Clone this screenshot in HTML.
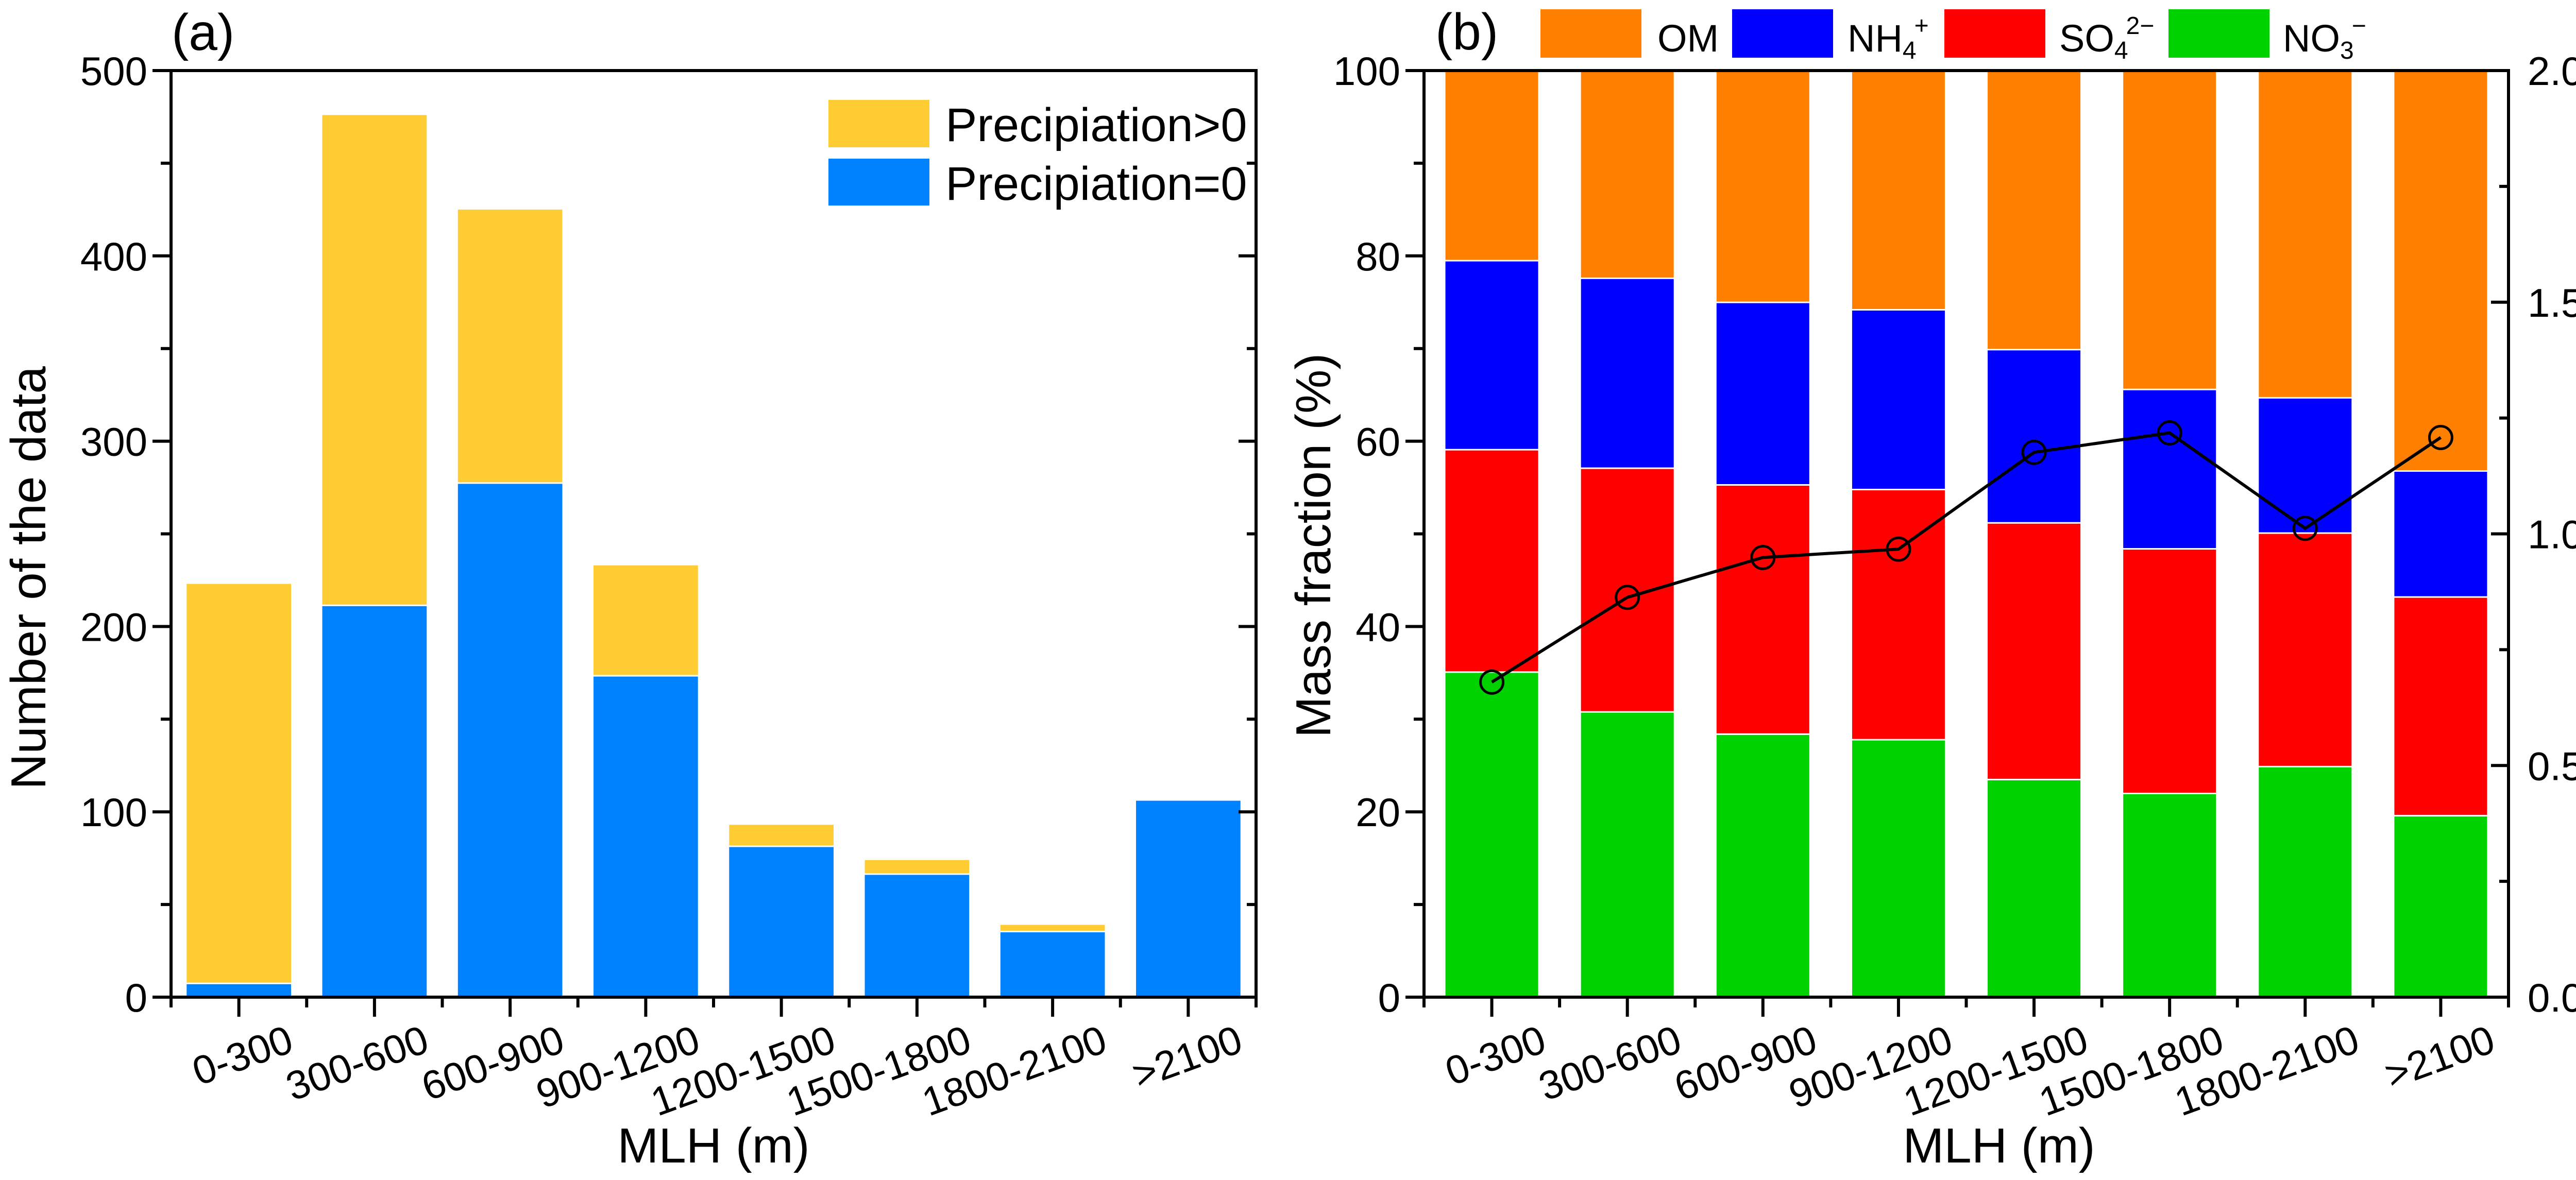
<!DOCTYPE html>
<html><head><meta charset="utf-8"><style>
html,body{margin:0;padding:0;background:#fff;overflow:hidden;width:5204px;height:2291px;}
svg{display:block;font-family:"Liberation Sans",Arial,sans-serif;}
</style></head><body>
<svg id="chart" xmlns="http://www.w3.org/2000/svg" width="5204" height="2291" viewBox="0 0 5204 2291">
<rect x="0" y="0" width="5204" height="2291" fill="#fff"/>
<g id="pa"></g>
<g id="pb"></g>
</svg>
<script>
const categories = ["0-300","300-600","600-900","900-1200","1200-1500","1500-1800","1800-2100",">2100"];
const precipZero = [7,211,277,173,81,66,35,106];
const precipTotal = [223,476,425,233,93,74,39,106];
const aTicks = [0,100,200,300,400,500];
const no3 = [35.0,30.7,28.3,27.7,23.4,21.9,24.8,19.5];
const so4 = [24.0,26.3,26.9,27.0,27.7,26.4,25.2,23.6];
const nh4 = [20.4,20.5,19.7,19.4,18.7,17.2,14.6,13.6];
const om = [20.6,22.5,25.1,25.9,30.2,34.5,35.4,43.3];
const ratio = [0.68,0.863,0.949,0.967,1.176,1.218,1.012,1.208];
const bTicks = [0,20,40,60,80,100];
const rTicks = ["0.0","0.5","1.0","1.5","2.0"];

const NS="http://www.w3.org/2000/svg";
function mk(parent,tag,attrs,text){const e=document.createElementNS(NS,tag);for(const k in attrs)e.setAttribute(k,attrs[k]);if(text!==undefined)e.textContent=text;parent.appendChild(e);return e;}

// ---------- Panel A ----------
const pa=document.getElementById('pa');
const A={l:332,r:2438,t:137,b:1936,max:500};
const axW=(A.r-A.l)/categories.length;
const ay=v=>A.b-(v/A.max)*(A.b-A.t);
const ax=i=>A.l+axW*(i+0.5);
const bwA=axW*0.77;
categories.forEach((c,i)=>{
  const x=ax(i)-bwA/2;
  let r=mk(pa,'rect',{x:x,y:ay(precipTotal[i]),width:bwA,height:Math.max(0,ay(precipZero[i])-ay(precipTotal[i])-3),fill:'#FFCD33'});
  
  
  r=mk(pa,'rect',{x:x,y:ay(precipZero[i]),width:bwA,height:A.b-ay(precipZero[i]),fill:'#0082FF'});
  
  
});
mk(pa,'path',{d:`M${A.l} ${A.t}H${A.r}V${A.b}H${A.l}Z`,fill:'none',stroke:'#000','stroke-width':6});
for(let v=0;v<=A.max;v+=50){
  const y=ay(v),maj=v%100===0;
  mk(pa,'line',{x1:A.l-(maj?36:20),x2:A.l,y1:y,y2:y,stroke:'#000','stroke-width':6});
  mk(pa,'line',{x1:A.r-(maj?34:18),x2:A.r,y1:y,y2:y,stroke:'#000','stroke-width':6});
}
aTicks.forEach(v=>{const t=mk(pa,'text',{x:A.l-46,y:ay(v)+28,'text-anchor':'end','font-size':78},v);
  
  });
for(let i=0;i<=categories.length;i++){const x=A.l+axW*i;mk(pa,'line',{x1:x,x2:x,y1:A.b,y2:A.b+20,stroke:'#000','stroke-width':6});}
categories.forEach((c,i)=>{
  mk(pa,'line',{x1:ax(i),x2:ax(i),y1:A.b,y2:A.b+38,stroke:'#000','stroke-width':6});
  const t=mk(pa,'text',{x:ax(i)+110,y:2040,'text-anchor':'end','font-size':78,transform:`rotate(-20 ${ax(i)+110} 2040)`},c);
  
  
});
let t=mk(pa,'text',{x:1385,y:2257,'text-anchor':'middle','font-size':96},'MLH (m)');

t=mk(pa,'text',{x:88,y:1122,'text-anchor':'middle','font-size':96,transform:'rotate(-90 88 1122)'},'Number of the data');

t=mk(pa,'text',{x:333,y:97,'font-size':100},'(a)');

let g=mk(pa,'g',{});
mk(g,'rect',{x:1608,y:194,width:196,height:92,fill:'#FFCD33'});
mk(g,'text',{x:1835,y:274,'font-size':92},'Precipiation>0');
g=mk(pa,'g',{});
mk(g,'rect',{x:1608,y:308,width:196,height:91,fill:'#0082FF'});
mk(g,'text',{x:1835,y:388,'font-size':92},'Precipiation=0');

// ---------- Panel B ----------
const pb=document.getElementById('pb');
const B={l:2764,r:4869,t:137,b:1936};
const bxW=(B.r-B.l)/categories.length;
const by=v=>B.b-(v/100)*(B.b-B.t);
const byR=v=>B.b-(v/2)*(B.b-B.t);
const bx=i=>B.l+bxW*(i+0.5);
const bwB=180;
const series=[["no3",no3,'#00D200'],["so4",so4,'#FF0000'],["nh4",nh4,'#0000FF'],["om",om,'#FF8000']];
categories.forEach((c,i)=>{
  let base=0;
  series.forEach((s,k)=>{
    const v=s[1][i];
    const top=base+v;
    const r=mk(pb,'rect',{x:bx(i)-bwB/2,y:by(top),width:bwB,height:Math.max(0,by(base)-by(top)-(k>0?3:0)),fill:s[2]});
    
    
    base=top;
  });
});
mk(pb,'path',{d:`M${B.l} ${B.t}H${B.r}V${B.b}H${B.l}Z`,fill:'none',stroke:'#000','stroke-width':6});
for(let v=0;v<=100;v+=10){const y=by(v),maj=v%20===0;
  mk(pb,'line',{x1:B.l-(maj?36:20),x2:B.l,y1:y,y2:y,stroke:'#000','stroke-width':6});}
for(let v=0;v<=2;v+=0.25){const y=byR(v),maj=Math.abs(v*2-Math.round(v*2))<1e-9;
  mk(pb,'line',{x1:B.r-(maj?34:18),x2:B.r,y1:y,y2:y,stroke:'#000','stroke-width':6});}
bTicks.forEach(v=>{const t=mk(pb,'text',{x:B.l-46,y:by(v)+28,'text-anchor':'end','font-size':78},v);
  
  });
rTicks.forEach(v=>{const t=mk(pb,'text',{x:4906,y:byR(parseFloat(v))+28,'font-size':78},v);
  
  });
for(let i=0;i<=categories.length;i++){const x=B.l+bxW*i;mk(pb,'line',{x1:x,x2:x,y1:B.b,y2:B.b+20,stroke:'#000','stroke-width':6});}
categories.forEach((c,i)=>{
  mk(pb,'line',{x1:bx(i),x2:bx(i),y1:B.b,y2:B.b+38,stroke:'#000','stroke-width':6});
  const t=mk(pb,'text',{x:bx(i)+110,y:2040,'text-anchor':'end','font-size':78,transform:`rotate(-20 ${bx(i)+110} 2040)`},c);
  
  
});
const pts=ratio.map((v,i)=>`${bx(i)},${byR(v)}`).join(' ');
const pl=mk(pb,'polyline',{points:pts,fill:'none',stroke:'#000','stroke-width':6});


ratio.forEach((v,i)=>{
  const c=mk(pb,'circle',{cx:bx(i),cy:byR(v),r:22,fill:'none',stroke:'#000','stroke-width':5});
  
  
});
t=mk(pb,'text',{x:3880,y:2257,'text-anchor':'middle','font-size':96},'MLH (m)');

t=mk(pb,'text',{x:2582,y:1059,'text-anchor':'middle','font-size':96,transform:'rotate(-90 2582 1059)'},'Mass fraction (%)');

t=mk(pb,'text',{x:5153,y:1000,'text-anchor':'middle','font-size':94,transform:'rotate(-90 5153 1000)'});

mk(t,'tspan',{},'SO');mk(t,'tspan',{'font-size':58,dy:22},'4');mk(t,'tspan',{'font-size':58,dy:-62},'2−');
mk(t,'tspan',{dy:40},'/NO');mk(t,'tspan',{'font-size':58,dy:22},'3');mk(t,'tspan',{'font-size':58,dy:-62},'−');
t=mk(pb,'text',{x:2786,y:96,'font-size':100},'(b)');

const leg=[["OM",'#FF8000',2990,3217,null,null],["NH",'#0000FF',3362,3586,'4','+'],["SO",'#FF0000',3774,3997,'4','2−'],["NO",'#00D200',4209,4431,'3','−']];
leg.forEach(L=>{
  const g=mk(pb,'g',{});
  
  
  mk(g,'rect',{x:L[2],y:18,width:196,height:94,fill:L[1]});
  const tx=mk(g,'text',{x:L[3],y:100,'font-size':74});
  mk(tx,'tspan',{},L[0]);
  if(L[4]){
    mk(tx,'tspan',{'font-size':48,dy:14},L[4]);
    mk(tx,'tspan',{'font-size':48,dy:-48,dx:-4},L[5]);
  }
});
</script>
</body></html>
